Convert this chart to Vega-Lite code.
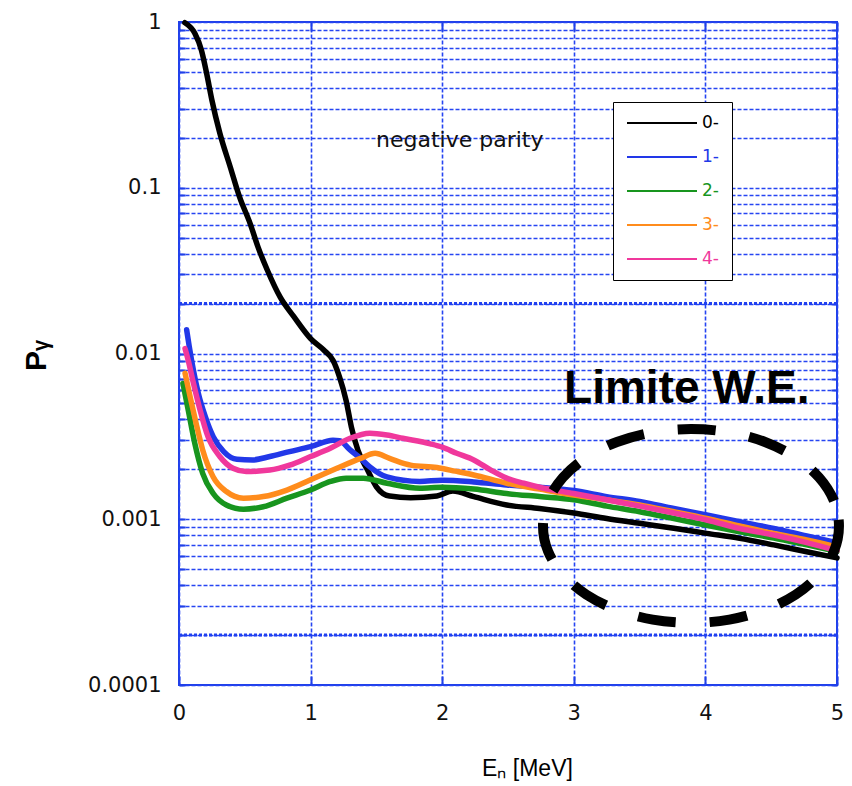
{
  "$schema": "https://vega.github.io/schema/vega-lite/v6.json",
  "width": 658,
  "height": 663,
  "autosize": {"type": "none"},
  "padding": {"left": 179, "top": 22, "right": 15, "bottom": 101},
  "background": "white",
  "config": {
    "view": {"stroke": "#2040e8", "strokeWidth": 2},
    "axis": {
      "labelFont": "DejaVu Sans",
      "labelFontSize": 21,
      "labelColor": "#111111",
      "titleFont": "Liberation Sans",
      "titleColor": "#000000",
      "domain": false,
      "gridColor": "#2645f2",
      "gridDash": [4, 2],
      "gridWidth": 1.6,
      "gridOpacity": 1,
      "tickColor": "#2040e8",
      "tickWidth": 2,
      "labelFlush": false,
      "labelOverlap": false
    }
  },
  "datasets": {
    "curves": [
      {"E": 0.045, "P": 0.99, "J": "0-"}, {"E": 0.12, "P": 0.855, "J": "0-"}, {"E": 0.17, "P": 0.678, "J": "0-"},
      {"E": 0.21, "P": 0.49, "J": "0-"}, {"E": 0.25, "P": 0.338, "J": "0-"}, {"E": 0.31, "P": 0.214, "J": "0-"},
      {"E": 0.39, "P": 0.133, "J": "0-"}, {"E": 0.46, "P": 0.088, "J": "0-"}, {"E": 0.54, "P": 0.061, "J": "0-"},
      {"E": 0.6, "P": 0.044, "J": "0-"}, {"E": 0.67, "P": 0.032, "J": "0-"}, {"E": 0.77, "P": 0.0218, "J": "0-"},
      {"E": 0.87, "P": 0.0168, "J": "0-"}, {"E": 1.0, "P": 0.0123, "J": "0-"}, {"E": 1.1, "P": 0.0105, "J": "0-"},
      {"E": 1.17, "P": 0.0091, "J": "0-"}, {"E": 1.22, "P": 0.0072, "J": "0-"}, {"E": 1.27, "P": 0.0052, "J": "0-"},
      {"E": 1.31, "P": 0.0036, "J": "0-"}, {"E": 1.36, "P": 0.0026, "J": "0-"}, {"E": 1.43, "P": 0.002, "J": "0-"},
      {"E": 1.5, "P": 0.00157, "J": "0-"}, {"E": 1.6, "P": 0.00138, "J": "0-"}, {"E": 1.76, "P": 0.00135, "J": "0-"},
      {"E": 1.96, "P": 0.00138, "J": "0-"}, {"E": 2.08, "P": 0.00148, "J": "0-"}, {"E": 2.24, "P": 0.00137, "J": "0-"},
      {"E": 2.49, "P": 0.00122, "J": "0-"}, {"E": 2.74, "P": 0.00116, "J": "0-"}, {"E": 3.0, "P": 0.00109, "J": "0-"},
      {"E": 3.25, "P": 0.00101, "J": "0-"}, {"E": 3.5, "P": 0.000945, "J": "0-"}, {"E": 3.76, "P": 0.000882, "J": "0-"},
      {"E": 4.01, "P": 0.000822, "J": "0-"}, {"E": 4.26, "P": 0.000767, "J": "0-"}, {"E": 4.52, "P": 0.0007, "J": "0-"},
      {"E": 4.77, "P": 0.000637, "J": "0-"}, {"E": 5.0, "P": 0.000585, "J": "0-"},

      {"E": 0.058, "P": 0.0139, "J": "1-"}, {"E": 0.078, "P": 0.011, "J": "1-"}, {"E": 0.11, "P": 0.0079, "J": "1-"},
      {"E": 0.147, "P": 0.00575, "J": "1-"}, {"E": 0.2, "P": 0.00416, "J": "1-"}, {"E": 0.26, "P": 0.00315, "J": "1-"},
      {"E": 0.34, "P": 0.00256, "J": "1-"}, {"E": 0.44, "P": 0.0023, "J": "1-"}, {"E": 0.56, "P": 0.00228, "J": "1-"},
      {"E": 0.69, "P": 0.00239, "J": "1-"}, {"E": 0.84, "P": 0.00256, "J": "1-"}, {"E": 1.0, "P": 0.00274, "J": "1-"},
      {"E": 1.17, "P": 0.003, "J": "1-"}, {"E": 1.22, "P": 0.00298, "J": "1-"}, {"E": 1.3, "P": 0.00262, "J": "1-"},
      {"E": 1.38, "P": 0.00233, "J": "1-"}, {"E": 1.45, "P": 0.00207, "J": "1-"}, {"E": 1.58, "P": 0.0018, "J": "1-"},
      {"E": 1.83, "P": 0.00169, "J": "1-"}, {"E": 2.0, "P": 0.00172, "J": "1-"}, {"E": 2.24, "P": 0.00168, "J": "1-"},
      {"E": 2.49, "P": 0.00161, "J": "1-"}, {"E": 2.74, "P": 0.00156, "J": "1-"}, {"E": 3.0, "P": 0.00149, "J": "1-"},
      {"E": 3.25, "P": 0.00137, "J": "1-"}, {"E": 3.5, "P": 0.00128, "J": "1-"}, {"E": 3.76, "P": 0.00116, "J": "1-"},
      {"E": 4.01, "P": 0.00106, "J": "1-"}, {"E": 4.26, "P": 0.000967, "J": "1-"}, {"E": 4.52, "P": 0.000881, "J": "1-"},
      {"E": 4.77, "P": 0.000792, "J": "1-"}, {"E": 5.0, "P": 0.000722, "J": "1-"},

      {"E": 0.03, "P": 0.0066, "J": "2-"}, {"E": 0.07, "P": 0.00456, "J": "2-"}, {"E": 0.12, "P": 0.00287, "J": "2-"},
      {"E": 0.18, "P": 0.00189, "J": "2-"}, {"E": 0.26, "P": 0.00143, "J": "2-"}, {"E": 0.36, "P": 0.00122, "J": "2-"},
      {"E": 0.49, "P": 0.00115, "J": "2-"}, {"E": 0.64, "P": 0.00119, "J": "2-"}, {"E": 0.82, "P": 0.00134, "J": "2-"},
      {"E": 1.0, "P": 0.0015, "J": "2-"}, {"E": 1.15, "P": 0.00169, "J": "2-"}, {"E": 1.27, "P": 0.00177, "J": "2-"},
      {"E": 1.4, "P": 0.00177, "J": "2-"}, {"E": 1.58, "P": 0.00165, "J": "2-"}, {"E": 1.83, "P": 0.00154, "J": "2-"},
      {"E": 2.0, "P": 0.00156, "J": "2-"}, {"E": 2.24, "P": 0.00152, "J": "2-"}, {"E": 2.49, "P": 0.00143, "J": "2-"},
      {"E": 2.74, "P": 0.00137, "J": "2-"}, {"E": 3.0, "P": 0.00131, "J": "2-"}, {"E": 3.25, "P": 0.0012, "J": "2-"},
      {"E": 3.5, "P": 0.00111, "J": "2-"}, {"E": 3.76, "P": 0.00101, "J": "2-"}, {"E": 4.01, "P": 0.00092, "J": "2-"},
      {"E": 4.26, "P": 0.00084, "J": "2-"}, {"E": 4.52, "P": 0.00077, "J": "2-"}, {"E": 4.77, "P": 0.0007, "J": "2-"},
      {"E": 5.0, "P": 0.00064, "J": "2-"},

      {"E": 0.046, "P": 0.0076, "J": "3-"}, {"E": 0.084, "P": 0.0055, "J": "3-"}, {"E": 0.13, "P": 0.00379, "J": "3-"},
      {"E": 0.18, "P": 0.00262, "J": "3-"}, {"E": 0.26, "P": 0.0018, "J": "3-"}, {"E": 0.36, "P": 0.00147, "J": "3-"},
      {"E": 0.49, "P": 0.00134, "J": "3-"}, {"E": 0.64, "P": 0.00137, "J": "3-"}, {"E": 0.82, "P": 0.0015, "J": "3-"},
      {"E": 1.0, "P": 0.00173, "J": "3-"}, {"E": 1.2, "P": 0.00203, "J": "3-"}, {"E": 1.38, "P": 0.00233, "J": "3-"},
      {"E": 1.49, "P": 0.0025, "J": "3-"}, {"E": 1.6, "P": 0.00233, "J": "3-"}, {"E": 1.76, "P": 0.00212, "J": "3-"},
      {"E": 1.96, "P": 0.00205, "J": "3-"}, {"E": 2.1, "P": 0.00195, "J": "3-"}, {"E": 2.24, "P": 0.00185, "J": "3-"},
      {"E": 2.49, "P": 0.00165, "J": "3-"}, {"E": 2.74, "P": 0.00152, "J": "3-"}, {"E": 3.0, "P": 0.0014, "J": "3-"},
      {"E": 3.25, "P": 0.00131, "J": "3-"}, {"E": 3.5, "P": 0.00122, "J": "3-"}, {"E": 3.76, "P": 0.00111, "J": "3-"},
      {"E": 4.01, "P": 0.00101, "J": "3-"}, {"E": 4.26, "P": 0.00091, "J": "3-"}, {"E": 4.52, "P": 0.00082, "J": "3-"},
      {"E": 4.77, "P": 0.00075, "J": "3-"}, {"E": 5.0, "P": 0.00068, "J": "3-"},

      {"E": 0.046, "P": 0.0107, "J": "4-"}, {"E": 0.07, "P": 0.0091, "J": "4-"}, {"E": 0.11, "P": 0.0066, "J": "4-"},
      {"E": 0.16, "P": 0.00456, "J": "4-"}, {"E": 0.22, "P": 0.00315, "J": "4-"}, {"E": 0.31, "P": 0.00239, "J": "4-"},
      {"E": 0.41, "P": 0.00203, "J": "4-"}, {"E": 0.51, "P": 0.00194, "J": "4-"}, {"E": 0.69, "P": 0.00198, "J": "4-"},
      {"E": 0.84, "P": 0.00212, "J": "4-"}, {"E": 1.0, "P": 0.00239, "J": "4-"}, {"E": 1.15, "P": 0.00268, "J": "4-"},
      {"E": 1.3, "P": 0.00308, "J": "4-"}, {"E": 1.45, "P": 0.0033, "J": "4-"}, {"E": 1.58, "P": 0.00322, "J": "4-"},
      {"E": 1.7, "P": 0.00308, "J": "4-"}, {"E": 1.91, "P": 0.00285, "J": "4-"}, {"E": 2.0, "P": 0.00272, "J": "4-"},
      {"E": 2.11, "P": 0.0025, "J": "4-"}, {"E": 2.24, "P": 0.00228, "J": "4-"}, {"E": 2.37, "P": 0.00198, "J": "4-"},
      {"E": 2.49, "P": 0.00177, "J": "4-"}, {"E": 2.62, "P": 0.00165, "J": "4-"}, {"E": 2.74, "P": 0.00156, "J": "4-"},
      {"E": 3.0, "P": 0.00143, "J": "4-"}, {"E": 3.25, "P": 0.00131, "J": "4-"}, {"E": 3.5, "P": 0.0012, "J": "4-"},
      {"E": 3.76, "P": 0.00109, "J": "4-"}, {"E": 4.01, "P": 0.00099, "J": "4-"}, {"E": 4.26, "P": 0.00088, "J": "4-"},
      {"E": 4.52, "P": 0.000803, "J": "4-"}, {"E": 4.77, "P": 0.000722, "J": "4-"}, {"E": 5.0, "P": 0.000645, "J": "4-"}
    ],
    "ellipse": [
      {"i": 0, "E": 5.015, "P": 0.000911}, {"i": 1, "E": 4.977, "P": 0.00129}, {"i": 2, "E": 4.864, "P": 0.001786},
      {"i": 3, "E": 4.686, "P": 0.002361}, {"i": 4, "E": 4.453, "P": 0.002925}, {"i": 5, "E": 4.182, "P": 0.003346},
      {"i": 6, "E": 3.891, "P": 0.003503}, {"i": 7, "E": 3.6, "P": 0.003346}, {"i": 8, "E": 3.328, "P": 0.002925},
      {"i": 9, "E": 3.095, "P": 0.002361}, {"i": 10, "E": 2.917, "P": 0.001786}, {"i": 11, "E": 2.804, "P": 0.00129},
      {"i": 12, "E": 2.766, "P": 0.000911}, {"i": 13, "E": 2.804, "P": 0.000642}, {"i": 14, "E": 2.917, "P": 0.000464},
      {"i": 15, "E": 3.095, "P": 0.000351}, {"i": 16, "E": 3.328, "P": 0.000284}, {"i": 17, "E": 3.6, "P": 0.000248},
      {"i": 18, "E": 3.891, "P": 0.000237}, {"i": 19, "E": 4.182, "P": 0.000248}, {"i": 20, "E": 4.453, "P": 0.000284},
      {"i": 21, "E": 4.686, "P": 0.000351}, {"i": 22, "E": 4.864, "P": 0.000464}, {"i": 23, "E": 4.977, "P": 0.000642}
    ]
  },
  "layer": [
    {
      "data": {"values": [{"v": 0.02}, {"v": 0.0002}]},
      "mark": {"type": "rule", "color": "#2040f0", "strokeWidth": 3, "strokeDash": [3, 2]},
      "encoding": {
        "y": {
          "field": "v", "type": "quantitative",
          "scale": {"type": "log", "domain": [0.0001, 1], "nice": false},
          "axis": {
            "orient": "left", "grid": false, "labels": false, "title": null, "ticks": true, "tickSize": -6,
            "values": [0.0001,0.0002,0.0003,0.0004,0.0005,0.0006,0.0007,0.0008,0.0009,0.001,0.002,0.003,0.004,0.005,0.006,0.007,0.008,0.009,0.01,0.02,0.03,0.04,0.05,0.06,0.07,0.08,0.09,0.1,0.2,0.3,0.4,0.5,0.6,0.7,0.8,0.9,1]
          }
        }
      }
    },
    {
      "data": {"name": "curves"},
      "mark": {"type": "line", "interpolate": "monotone", "strokeWidth": 5.5, "strokeCap": "round", "strokeJoin": "round"},
      "encoding": {
        "x": {
          "field": "E", "type": "quantitative",
          "scale": {"domain": [0, 5], "nice": false},
          "axis": {
            "orient": "bottom", "values": [0, 1, 2, 3, 4, 5], "grid": true, "ticks": false, "labelPadding": 17,
            "title": "Eₙ [MeV]", "titleFontSize": 23, "titleFontWeight": "normal", "titleX": 348, "titleY": 90,
            "titleAlign": "center", "titleBaseline": "alphabetic"
          }
        },
        "y": {
          "field": "P", "type": "quantitative",
          "scale": {"type": "log", "domain": [0.0001, 1], "nice": false},
          "axis": {
            "orient": "left", "grid": true, "ticks": false, "labelPadding": 18,
            "values": [0.0001,0.0002,0.0003,0.0004,0.0005,0.0006,0.0007,0.0008,0.0009,0.001,0.002,0.003,0.004,0.005,0.006,0.007,0.008,0.009,0.01,0.02,0.03,0.04,0.05,0.06,0.07,0.08,0.09,0.1,0.2,0.3,0.4,0.5,0.6,0.7,0.8,0.9,1],
            "labelExpr": "datum.value === 1 ? '1' : datum.value === 0.1 ? '0.1' : datum.value === 0.01 ? '0.01' : datum.value === 0.001 ? '0.001' : datum.value === 0.0001 ? '0.0001' : ''",
            "title": "Pᵧ", "titleFontSize": 30, "titleFontWeight": "bold", "titleAngle": -90,
            "titleX": -134, "titleY": 333, "titleAlign": "center", "titleBaseline": "alphabetic"
          }
        },
        "color": {
          "field": "J", "type": "nominal",
          "scale": {"domain": ["0-", "1-", "2-", "3-", "4-"], "range": ["#000000", "#2238e8", "#18951e", "#ff8c1c", "#f0389c"]},
          "legend": {
            "orient": "none", "legendX": 434, "legendY": 80, "title": null,
            "symbolType": "stroke", "symbolSize": 4900, "symbolStrokeWidth": 2, "clipHeight": 16,
            "rowPadding": 17, "labelFont": "DejaVu Sans", "labelFontSize": 17, "labelOffset": 4,
            "padding": 13, "strokeColor": "#000000", "fillColor": "#ffffff",
            "encode": {"labels": {"update": {"fill": {"scale": "color", "field": "value"}}}}
          }
        }
      }
    },
    {
      "data": {"values": [{"E": 1.497, "P": 0.1754, "t": "negative parity"}]},
      "mark": {"type": "text", "align": "left", "baseline": "alphabetic", "font": "DejaVu Sans", "fontSize": 22, "color": "#111111"},
      "encoding": {
        "x": {"field": "E", "type": "quantitative", "axis": {"orient": "bottom", "values": [0, 1, 2, 3, 4, 5], "grid": false, "labels": false, "title": null, "ticks": true, "tickSize": -9}},
        "y": {"field": "P", "type": "quantitative", "scale": {"type": "log"}, "axis": null},
        "text": {"field": "t"}
      }
    },
    {
      "data": {"values": [{"E": 2.926, "P": 0.005027, "t": "Limite W.E."}]},
      "mark": {"type": "text", "align": "left", "baseline": "alphabetic", "font": "Liberation Sans", "fontSize": 46, "fontWeight": "bold", "color": "#000000"},
      "encoding": {
        "x": {"field": "E", "type": "quantitative", "axis": {"orient": "top", "values": [0, 1, 2, 3, 4, 5], "grid": false, "labels": false, "title": null, "ticks": true, "tickSize": -9}},
        "y": {"field": "P", "type": "quantitative", "scale": {"type": "log"}, "axis": null},
        "text": {"field": "t"}
      }
    },
    {
      "data": {"name": "ellipse"},
      "mark": {"type": "line", "interpolate": "cardinal-closed", "color": "#000000", "strokeWidth": 10, "strokeDash": [38, 34], "clip": false},
      "encoding": {
        "x": {"field": "E", "type": "quantitative", "axis": null},
        "y": {
          "field": "P", "type": "quantitative", "scale": {"type": "log"},
          "axis": {
            "orient": "right", "grid": false, "labels": false, "title": null, "ticks": true, "tickSize": -6,
            "values": [0.0001,0.0002,0.0003,0.0004,0.0005,0.0006,0.0007,0.0008,0.0009,0.001,0.002,0.003,0.004,0.005,0.006,0.007,0.008,0.009,0.01,0.02,0.03,0.04,0.05,0.06,0.07,0.08,0.09,0.1,0.2,0.3,0.4,0.5,0.6,0.7,0.8,0.9,1]
          }
        },
        "order": {"field": "i", "type": "quantitative"}
      }
    }
  ],
  "resolve": {"axis": {"x": "independent", "y": "independent"}}
}
